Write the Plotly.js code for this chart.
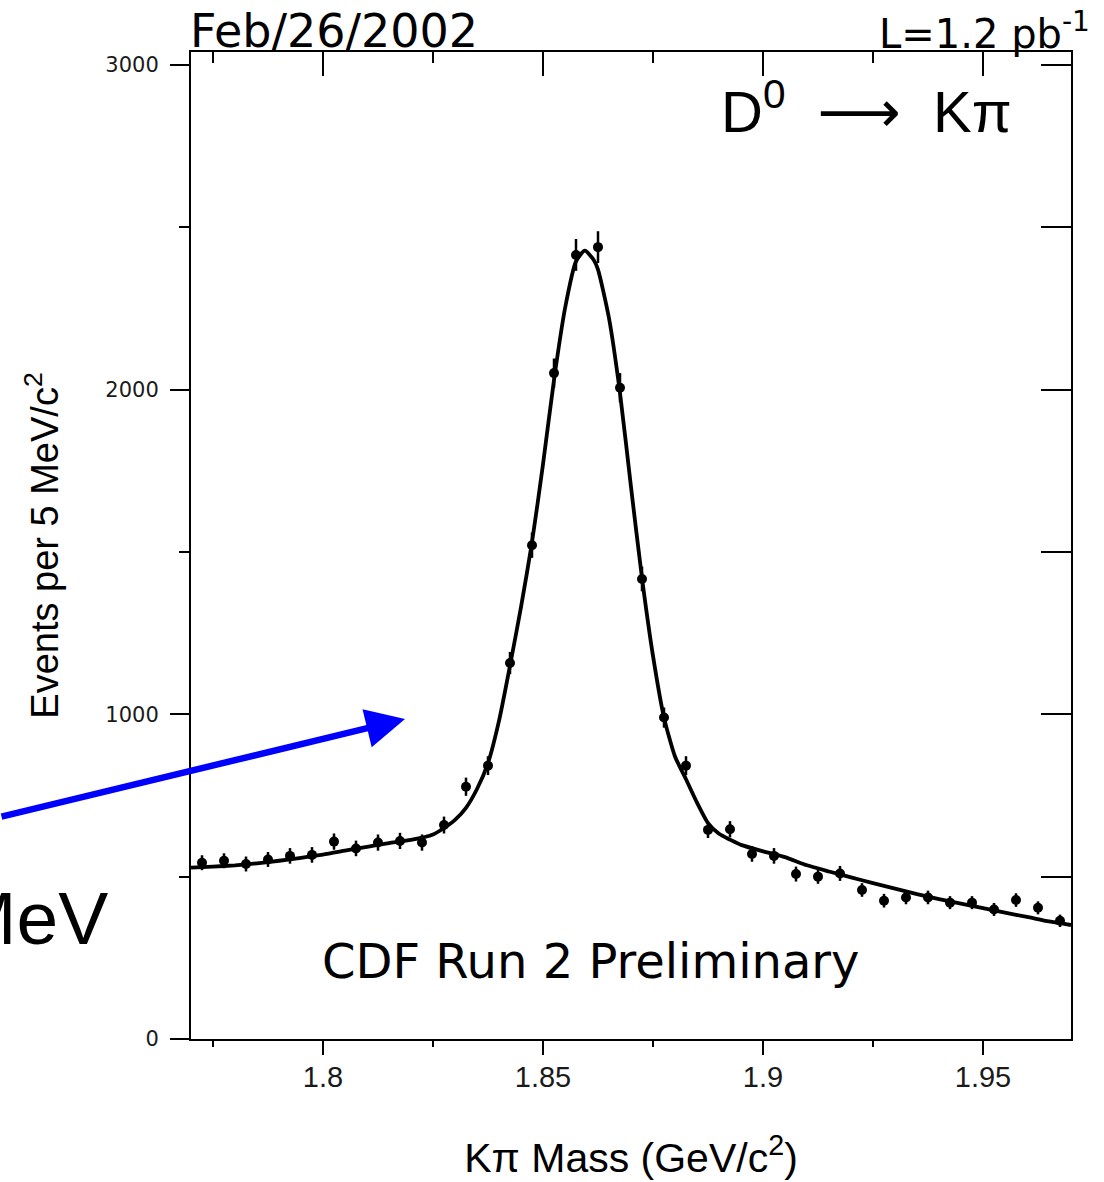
<!DOCTYPE html>
<html>
<head>
<meta charset="utf-8">
<script src="https://cdn.plot.ly/plotly-3.0.1.min.js"></script>
<style>html,body{margin:0;padding:0;background:#fff;}#chart{width:1104px;height:1182px;}</style>
</head>
<body>
<div id="chart"></div>
<script>
// Bin centres (GeV/c^2), 5 MeV bins
var massBins = [1.7725,1.7775,1.7825,1.7875,1.7925,1.7975,1.8025,1.8075,1.8125,1.8175,
                1.8225,1.8275,1.8325,1.8375,1.8425,1.8475,1.8525,1.8575,1.8625,1.8675,
                1.8725,1.8775,1.8825,1.8875,1.8925,1.8975,1.9025,1.9075,1.9125,1.9175,
                1.9225,1.9275,1.9325,1.9375,1.9425,1.9475,1.9525,1.9575,1.9625,1.9675];
// Events per bin
var events = [543,549,539,553,564,567,608,587,605,610,
              605,659,777,842,1158,1521,2051,2415,2439,2006,
              1417,990,842,644,646,570,564,508,500,510,
              459,426,436,436,420,420,399,428,404,364];
// Error bar half-lengths
var eventErrors = [23,23,23,23,24,24,25,24,25,25,
                   25,26,28,29,34,39,45,49,49,45,
                   38,31,29,25,25,24,24,23,22,23,
                   21,21,21,21,20,20,20,21,20,19];
// Fit curve
var fitMass = [1.770,1.775,1.780,1.785,1.790,1.795,1.800,1.805,1.810,1.815,1.820,1.825,
               1.8275,1.830,1.8325,1.835,1.8375,1.840,1.8425,1.845,1.8475,1.850,1.8525,
               1.855,1.8575,1.8595,1.8615,1.8625,1.865,1.8675,1.870,1.8725,1.875,1.8775,
               1.880,1.8825,1.885,1.8875,1.890,1.8925,1.895,1.900,1.905,1.910,1.915,1.920,
               1.925,1.930,1.935,1.940,1.945,1.950,1.955,1.960,1.965,1.970];
var fitEvents = [528,531,535,541,549,558,568,580,592,603,613,630,
                 650,675,712,770,850,980,1150,1330,1530,1770,2030,
                 2250,2395,2428,2400,2370,2220,1990,1700,1420,1180,990,
                 870,800,728,665,632,614,598,578,560,535,516,498,
                 480,463,446,431,417,403,389,376,362,351];
// Axis ticks
var xTickVals = [1.8,1.85,1.9,1.95];
var xTickText = ['1.8','1.85','1.9','1.95'];
var yTickVals = [0,1000,2000,3000];
var yTickText = ['0','1000','2000','3000'];

var xRange = [1.77, 1.97];
var yRange = [0, 3040];

var traces = [
  {
    x: massBins, y: events, type: 'scatter', mode: 'markers',
    marker: {color: '#000', size: 10, symbol: 'circle'},
    error_y: {type: 'data', array: eventErrors, visible: true, color: '#000', thickness: 2.5, width: 0},
    showlegend: false
  },
  {
    x: fitMass, y: fitEvents, type: 'scatter', mode: 'lines',
    xaxis: 'x2', yaxis: 'y2',
    line: {color: '#000', width: 3.8, shape: 'spline', smoothing: 0.6},
    showlegend: false
  }
];

var axisFontY = {family: 'DejaVu Sans, sans-serif', size: 21, color: '#1a1a1a'};
var axisFontX = {family: 'Liberation Sans, Arial, sans-serif', size: 29, color: '#1a1a1a'};

var layout = {
  width: 1104, height: 1182,
  paper_bgcolor: '#fff', plot_bgcolor: '#fff',
  margin: {l: 191, r: 33, t: 52, b: 143, pad: 0},
  showlegend: false,
  xaxis: {
    range: xRange, showgrid: false, zeroline: false,
    showline: true, linecolor: '#000', linewidth: 2,
    tickmode: 'array', tickvals: xTickVals, ticktext: xTickText,
    ticks: 'outside', ticklen: 14, tickwidth: 2, tickcolor: '#000',
    minor: {tickmode: 'linear', tick0: 1.775, dtick: 0.025, ticks: 'outside', ticklen: 6, tickwidth: 2, tickcolor: '#000'},
    tickfont: axisFontX, ticklabelstandoff: -3,
    title: {text: 'K\u03c0 Mass (GeV/c<sup>2</sup>)', font: {family: 'Liberation Sans, Arial, sans-serif', size: 41, color: '#000'}, standoff: 52},
    automargin: false
  },
  xaxis2: {
    range: xRange, overlaying: 'x', side: 'top', anchor: 'y2',
    showgrid: false, zeroline: false,
    showline: true, linecolor: '#000', linewidth: 2,
    tickmode: 'array', tickvals: xTickVals, showticklabels: false,
    ticks: 'inside', ticklen: 24, tickwidth: 2, tickcolor: '#000',
    minor: {tickmode: 'linear', tick0: 1.775, dtick: 0.025, ticks: 'inside', ticklen: 11, tickwidth: 2, tickcolor: '#000'}
  },
  yaxis: {
    range: yRange, showgrid: false, zeroline: false,
    showline: true, linecolor: '#000', linewidth: 2,
    tickmode: 'array', tickvals: yTickVals, ticktext: yTickText,
    ticks: 'outside', ticklen: 19, tickwidth: 2, tickcolor: '#000',
    minor: {tickmode: 'linear', tick0: 0, dtick: 500, ticks: 'outside', ticklen: 10, tickwidth: 2, tickcolor: '#000'},
    tickfont: axisFontY, ticklabelstandoff: 7,
    title: {text: 'Events per 5 MeV/c<sup>2</sup>', font: {family: 'Liberation Sans, Arial, sans-serif', size: 38, color: '#000'}, standoff: 35},
    automargin: false
  },
  yaxis2: {
    range: yRange, overlaying: 'y', side: 'right', anchor: 'x2',
    showgrid: false, zeroline: false,
    showline: true, linecolor: '#000', linewidth: 2,
    tickmode: 'array', tickvals: yTickVals, showticklabels: false,
    ticks: 'inside', ticklen: 30, tickwidth: 2, tickcolor: '#000',
    minor: {tickmode: 'linear', tick0: 0, dtick: 500, ticks: 'inside', ticklen: 30, tickwidth: 2, tickcolor: '#000'}
  },
  annotations: [
    {xref: 'paper', yref: 'paper', x: -0.003, y: 1.0215, xanchor: 'left', yanchor: 'middle', showarrow: false,
     text: 'Feb/26/2002', font: {family: 'DejaVu Sans, sans-serif', size: 46, color: '#000'}},
    {xref: 'paper', yref: 'paper', x: 1.024, y: 1.0215, xanchor: 'right', yanchor: 'middle', showarrow: false,
     text: 'L=1.2 pb<sup>-1</sup>', font: {family: 'DejaVu Sans, sans-serif', size: 40, color: '#000'}},
    {xref: 'paper', yref: 'paper', x: 0.600, y: 0.944, xanchor: 'left', yanchor: 'middle', showarrow: false,
     text: 'D<sup>0</sup>  \u27f6  K\u03c0', font: {family: 'Liberation Sans, DejaVu Sans, sans-serif', size: 58, color: '#000'}},
    {xref: 'paper', yref: 'paper', x: 0.147, y: 0.079, xanchor: 'left', yanchor: 'middle', showarrow: false,
     text: 'CDF Run 2 Preliminary', font: {family: 'DejaVu Sans, sans-serif', size: 48, color: '#000'}},
    {xref: 'paper', yref: 'paper', x: -0.092, y: 0.1226, xanchor: 'right', yanchor: 'middle', showarrow: false,
     text: 'MeV', font: {family: 'Liberation Sans, Arial, sans-serif', size: 75, color: '#000'}},
    {xref: 'paper', yref: 'paper', x: 0.2432, y: 0.3242, text: '', showarrow: true,
     ax: -410, ay: 98, arrowcolor: '#0000ff', arrowwidth: 6.5, arrowhead: 2, arrowsize: 1.2, standoff: 0}
  ]
};

Plotly.newPlot('chart', traces, layout, {displayModeBar: false, staticPlot: true});
</script>
</body>
</html>
